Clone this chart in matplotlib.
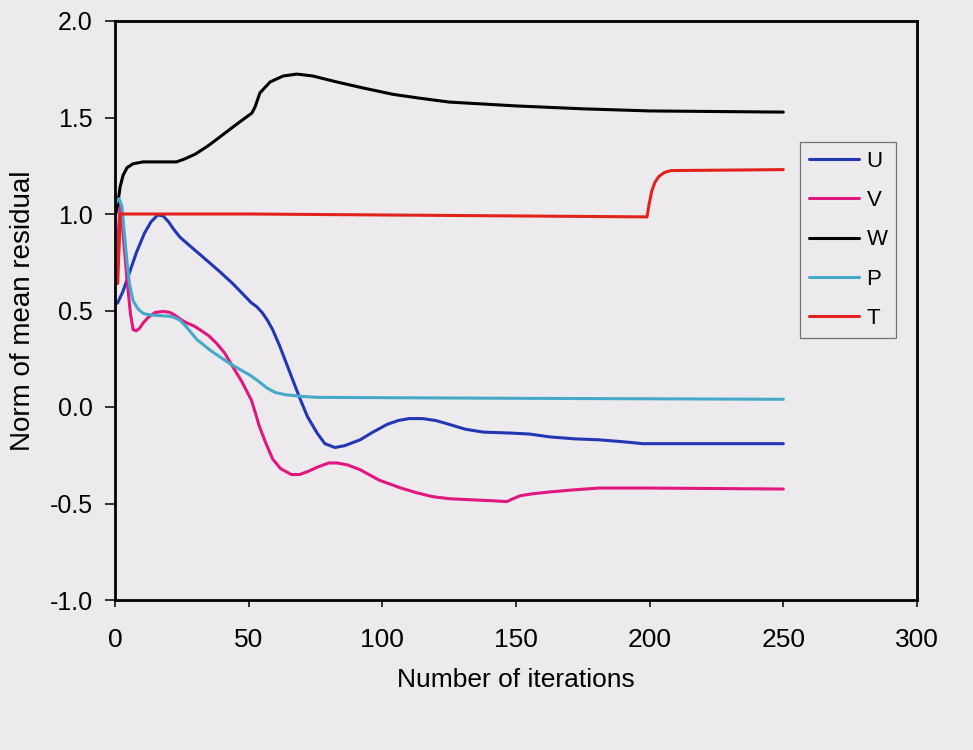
import matplotlib
matplotlib.use("Agg")
import matplotlib.pyplot as plt

plt.rcParams['font.family'] = ['Liberation Sans', 'DejaVu Sans']

# iteration / residual samples for each variable
u_x = [0, 1, 3, 5, 8, 11, 13.5, 16, 18, 20, 22, 24.3, 28, 31.8, 39.3, 44, 51, 53, 55,
       57, 59, 61.5, 64, 66.5, 69, 72, 75.6, 78.5, 82.3, 86, 91.7, 96.5, 101.8, 106,
       110, 115, 120, 125, 131, 137.7, 147.8, 155, 162.7, 172, 181, 190, 197.5, 250]
u_y = [0.53, 0.54, 0.60, 0.68, 0.80, 0.90, 0.96, 0.995, 0.99, 0.96, 0.92, 0.88, 0.835,
       0.79, 0.70, 0.64, 0.54, 0.52, 0.49, 0.45, 0.40, 0.32, 0.23, 0.14, 0.05, -0.05,
       -0.135, -0.19, -0.21, -0.20, -0.17, -0.13, -0.09, -0.07, -0.06, -0.06, -0.07,
       -0.09, -0.115, -0.13, -0.135, -0.14, -0.155, -0.165, -0.17, -0.18, -0.19, -0.19]

v_x = [0.5, 1.2, 2, 3, 4.5, 5.8, 6.8, 8, 9.3, 10.5, 12.5, 15, 18, 20.6, 23, 25, 27,
       29.5, 31.8, 35, 38, 41, 44, 47.5, 51, 52.5, 54, 56.5, 59, 62, 66, 69, 72, 76,
       80, 83, 87, 91.7, 95, 99, 103, 107, 113, 119, 125, 132, 140, 146.6, 149, 151.5,
       156, 162.7, 171, 181, 200, 250]
v_y = [0.64, 0.90, 1.05, 0.90, 0.66, 0.48, 0.40, 0.395, 0.41, 0.435, 0.465, 0.49,
       0.495, 0.49, 0.47, 0.45, 0.435, 0.42, 0.40, 0.37, 0.33, 0.28, 0.21, 0.13, 0.036,
       -0.03, -0.10, -0.19, -0.27, -0.32, -0.35, -0.35, -0.335, -0.31, -0.29, -0.29,
       -0.30, -0.325, -0.35, -0.38, -0.40, -0.42, -0.445, -0.465, -0.475, -0.48,
       -0.485, -0.49, -0.475, -0.46, -0.45, -0.44, -0.43, -0.42, -0.42, -0.425]

w_x = [0, 1, 1.9, 3, 4.5, 6.7, 10.5, 23, 26, 30, 35, 39.3, 45, 51.2, 52.4, 54.2, 58,
       62.9, 68, 74, 83, 92.8, 104, 114, 125, 150, 175, 200, 250]
w_y = [0.98, 1.05, 1.14, 1.20, 1.24, 1.26, 1.27, 1.27, 1.285, 1.31, 1.355, 1.40,
       1.46, 1.523, 1.555, 1.627, 1.684, 1.715, 1.725, 1.715, 1.684, 1.653, 1.62,
       1.60, 1.58, 1.56, 1.545, 1.534, 1.528]

p_x = [0, 1.5, 2.6, 3.5, 4.5, 5.5, 6.8, 8.5, 10.5, 13, 17, 20.6, 22.5, 24.3, 27,
       30.6, 36, 41.9, 46, 50.5, 53.5, 56.7, 60, 64, 70, 75.6, 150, 250]
p_y = [1.05, 1.08, 1.04, 0.90, 0.75, 0.63, 0.55, 0.51, 0.485, 0.477, 0.473, 0.47,
       0.462, 0.45, 0.41, 0.35, 0.29, 0.235, 0.20, 0.165, 0.135, 0.10, 0.075, 0.063,
       0.055, 0.05, 0.045, 0.04]

t_x = [1, 2, 50, 100, 150, 199, 199.8, 200.8, 202, 203.5, 205.5, 208, 250]
t_y = [0.64, 1.0, 1.0, 0.995, 0.99, 0.985, 1.05, 1.12, 1.165, 1.195, 1.215, 1.225, 1.23]

series = [('U', u_x, u_y, '#2237B4'),
          ('V', v_x, v_y, '#E0177F'),
          ('W', w_x, w_y, '#000000'),
          ('P', p_x, p_y, '#47A9CA'),
          ('T', t_x, t_y, '#E2231C')]

paper = '#ECEAEC'
fig = plt.figure(figsize=(9.73, 7.5), dpi=100, facecolor=paper)
ax = fig.add_axes([0.1182, 0.2, 0.8242, 0.772])
ax.set_facecolor(paper)

for name, xs, ys, col in series:
    ax.plot(xs, ys, color=col, lw=2.2, label=name,
            solid_joinstyle='round', solid_capstyle='round')

ax.set_xlim(0, 300)
ax.set_ylim(-1.0, 2.0)
ax.set_xticks(range(0, 301, 50))
ax.set_yticks([-1.0, -0.5, 0.0, 0.5, 1.0, 1.5, 2.0])
ax.set_yticklabels(['%.1f' % v for v in ax.get_yticks()])

for s in ax.spines.values():
    s.set_linewidth(2.0)
ax.tick_params(axis='both', direction='out', width=1.1)
ax.tick_params(axis='y', labelsize=18, length=7, pad=9)
ax.tick_params(axis='x', labelsize=19, length=5, pad=15)

ax.set_xlabel('Number of iterations', fontsize=19)
ax.set_ylabel('Norm of mean residual', fontsize=20)
ax.xaxis.set_label_coords(0.5, -0.118)
ax.yaxis.set_label_coords(-0.099, 0.5)

leg = ax.legend(loc='upper left', bbox_to_anchor=(0.854, 0.791), borderaxespad=0,
                fontsize=16, frameon=True, fancybox=False, handlelength=2.25,
                handletextpad=0.35, labelspacing=0.82, borderpad=0.4)
leg.get_frame().set_edgecolor('#555555')
leg.get_frame().set_linewidth(0.9)
leg.get_frame().set_facecolor(paper)
for line in leg.get_lines():
    line.set_linewidth(2.2)

fig.savefig('out.png', dpi=100, facecolor=paper)
